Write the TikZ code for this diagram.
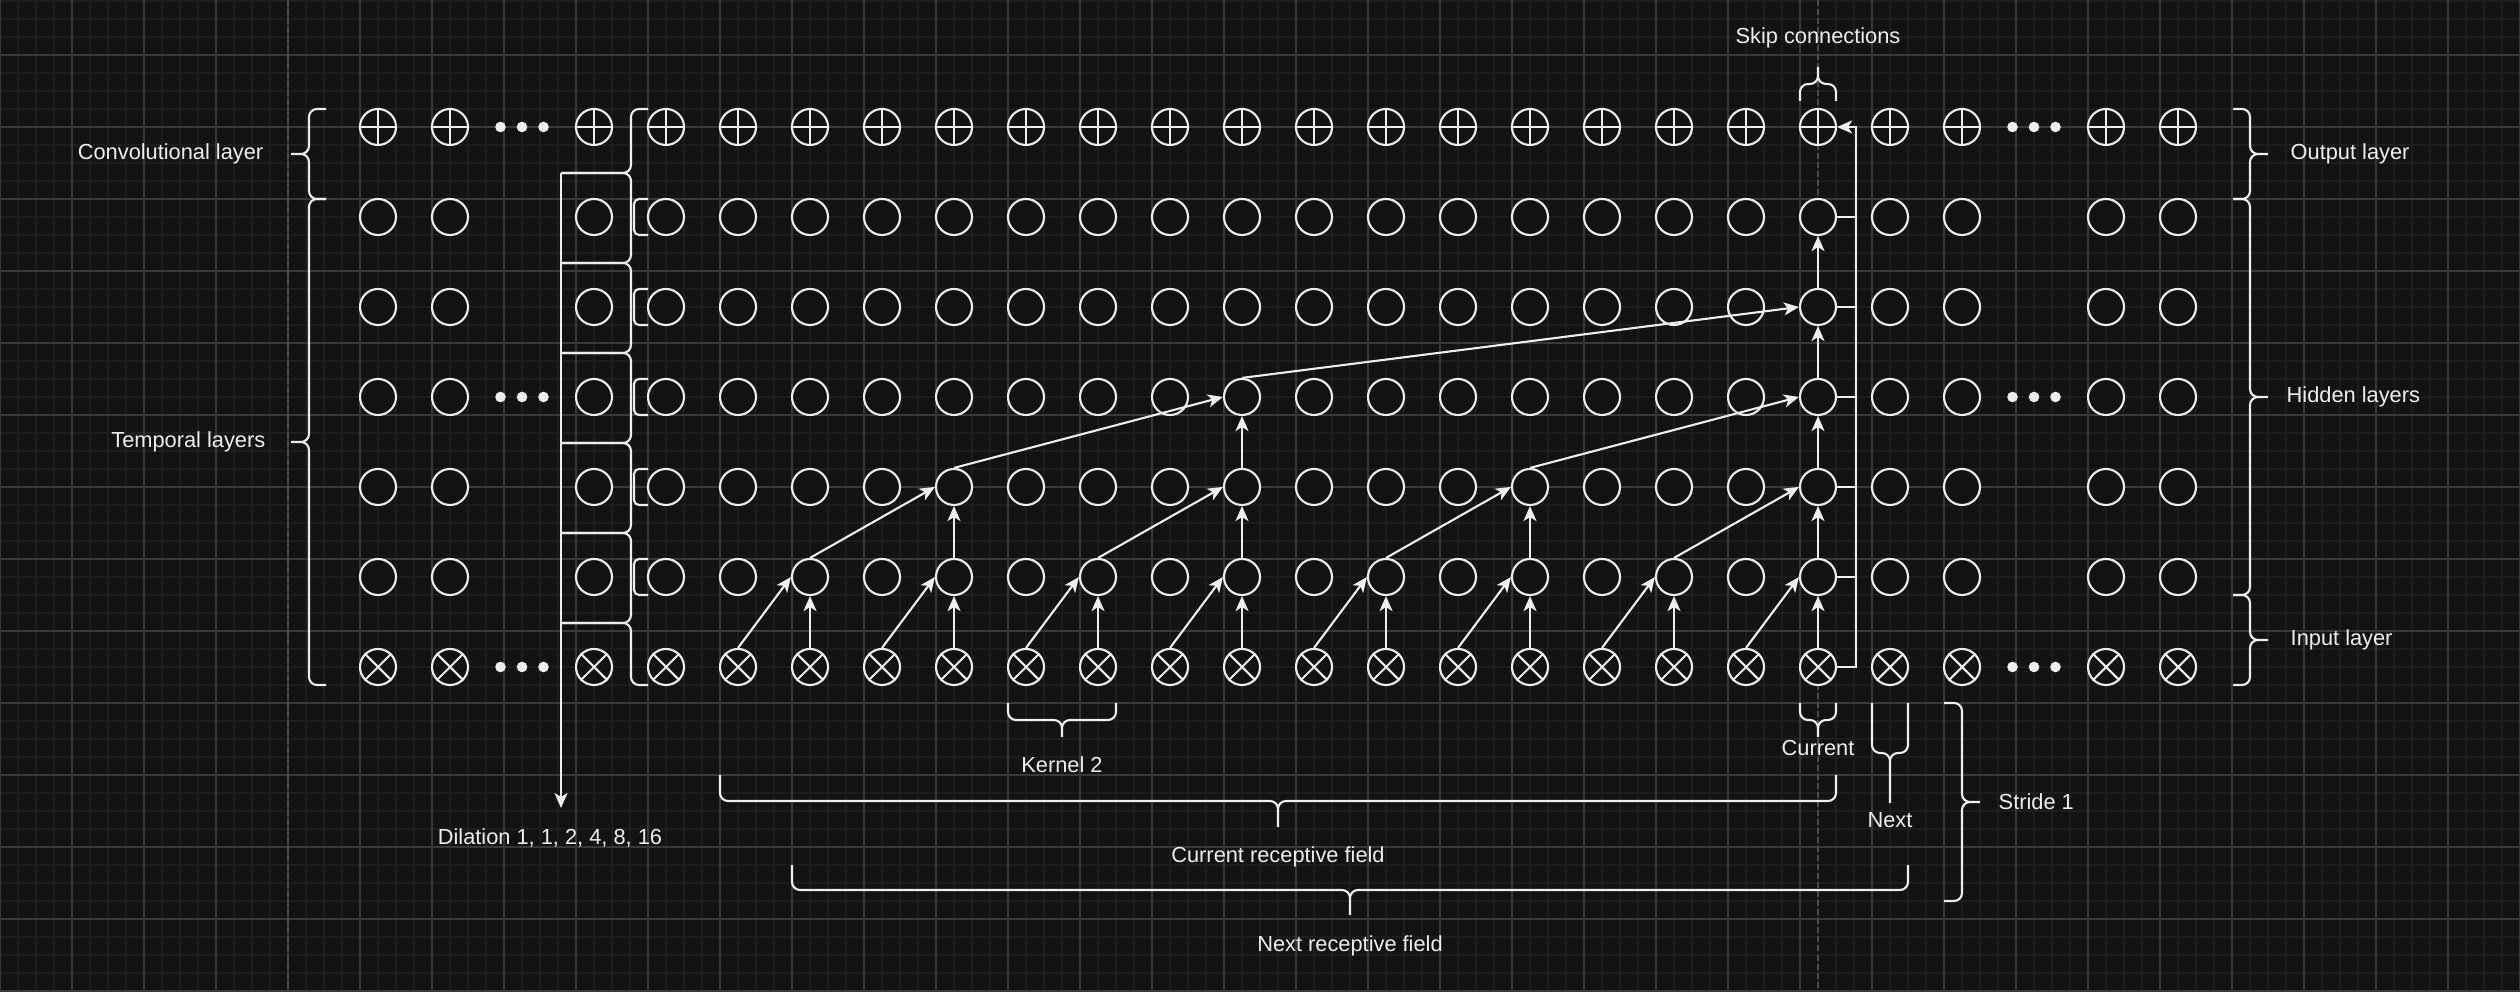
\documentclass[tikz,border=0pt]{standalone}
\usepackage{fontspec}
\setmainfont{Liberation Sans}
\usetikzlibrary{positioning,arrows.meta}
\definecolor{bgc}{HTML}{121212}
\definecolor{minorc}{HTML}{1D1D1D}
\definecolor{majorc}{HTML}{393939}
\definecolor{dashc}{HTML}{4C4C4C}
\definecolor{inkc}{HTML}{EEEEEE}

\begin{document}
\begin{tikzpicture}[x=0.01cm, y=-0.01cm,
  every node/.style={font=\fontsize{6.2}{7.4}\selectfont, text=inkc, inner sep=0pt},
  unit/.style={circle, draw=inkc, fill=bgc, line width=0.6pt, minimum size=0.36cm, inner sep=0pt},
  wire/.style={draw=inkc, line width=0.6pt},
  conn/.style={wire, -{Stealth[length=0.15cm, width=0.13cm, inset=0.04cm]}},
  brc/.style={wire, rounded corners=0.08cm},
  minorgrid/.style={draw=minorc, line width=0.3pt},
  majorgrid/.style={draw=majorc, line width=0.4pt},
  guide/.style={draw=dashc, line width=0.5pt, dash pattern=on 0.06cm off 0.03cm}]
  \useasboundingbox (0,0) rectangle (2520,992);
  \fill[bgc] (0,0) rectangle (2520,992);

  % grid
  \foreach \gx in {0,18,...,2520} \draw[minorgrid] (\gx,0) -- (\gx,992);
  \foreach \gy in {1,19,...,991} \draw[minorgrid] (0,\gy) -- (2520,\gy);
  \foreach \gx in {0,72,...,2520} \draw[majorgrid] (\gx,0) -- (\gx,992);
  \foreach \gy in {55,127,...,991} \draw[majorgrid] (0,\gy) -- (2520,\gy);
  \draw[guide] (288,0) -- (288,992);
  \draw[guide] (1818,0) -- (1818,992);

  % units
  \foreach \c in {0,1,3,4,5,6,7,8,9,10,11,12,13,14,15,16,17,18,19,20,21,22,24,25} {
    \foreach \r in {0,...,6}
      \node[unit] (n-\r-\c) at ({378+72*\c},{127+90*\r}) {};
    \draw[wire] (n-0-\c.north) -- (n-0-\c.south) (n-0-\c.west) -- (n-0-\c.east);
    \draw[wire] (n-6-\c.north west) -- (n-6-\c.south east) (n-6-\c.north east) -- (n-6-\c.south west);
  }
  \foreach \c in {2,23}
    \foreach \r in {0,3,6}
      \foreach \d in {-21.5,0,21.5}
        \fill[inkc] ({378+72*\c+\d},{127+90*\r}) circle (0.053cm);

  % dilation
  \coordinate (dil) at (561,173);
  \coordinate (dilend) at (561,808);
  \draw[conn] (dil) -- (dilend);
  \foreach \yt/\yb in {173/263,263/353,353/443,443/533,533/623}
    \draw[brc] (561,\yt) -- (631,\yt) -- (631,\yb) -- (561,\yb);
  \draw[brc] (561,173) -- (631,173) -- (631,109) -- (648,109);
  \draw[brc] (561,623) -- (631,623) -- (631,685) -- (648,685);
  \foreach \r in {1,...,5}
    \draw[wire, rounded corners=0.05cm] (648,{109+90*\r}) -- (634,{109+90*\r}) -- (634,{145+90*\r}) -- (648,{145+90*\r});
  \node (ldil) at (550,838) {Dilation 1, 1, 2, 4, 8, 16};

  % braces
  \draw[brc] (326,109) -| (309,154) -- (291,154) (326,199) -| (309,154) -- (291,154);
  \draw[brc] (326,199) -| (309,442) -- (291,442) (326,685) -| (309,442) -- (291,442);
  \draw[brc] (2233,109) -| (2250,154) -- (2268,154) (2233,199) -| (2250,154) -- (2268,154);
  \draw[brc] (2233,199) -| (2250,397) -- (2268,397) (2233,595) -| (2250,397) -- (2268,397);
  \draw[brc] (2233,595) -| (2250,640) -- (2268,640) (2233,685) -| (2250,640) -- (2268,640);
  \draw[brc] (1944,703) -| (1962,802) -- (1980,802) (1944,901) -| (1962,802) -- (1980,802);
  \draw[brc] (1800,101) |- (1818,84) -- (1818,67) (1836,101) |- (1818,84) -- (1818,67);
  \draw[brc] (1008,703) |- (1062,720) -- (1062,737) (1116,703) |- (1062,720) -- (1062,737);
  \draw[brc] (1800,703) |- (1818,720) -- (1818,737) (1836,703) |- (1818,720) -- (1818,737);
  \draw[brc] (1872,703) |- (1890,753) -- (1890,803) (1908,703) |- (1890,753) -- (1890,803);
  \draw[brc] (720,775) |- (1278,801) -- (1278,827) (1836,775) |- (1278,801) -- (1278,827);
  \draw[brc] (792,865) |- (1350,890) -- (1350,915) (1908,865) |- (1350,890) -- (1350,915);

  % labels
  \node[anchor=east] (lconv) at (264,154) {Convolutional layer};
  \node[anchor=east] (ltemp) at (266,442) {Temporal layers};
  \node[anchor=west] (lout) at (2290,154) {Output layer};
  \node[anchor=west] (lhid) at (2286,397) {Hidden layers};
  \node[anchor=west] (lin) at (2290,640) {Input layer};
  \node[anchor=west] (lstride) at (1998,802) {Stride 1};
  \node (lskip) at (1818,38) {Skip connections};
  \node (lkernel) at (1062,765) {Kernel 2};
  \node (lcur) at (1818,748) {Current};
  \node (lnext) at (1890,820) {Next};
  \node (lcurrf) at (1278,857) {Current receptive field};
  \node (lnextrf) at (1350,946) {Next receptive field};

  % dilated connections
  \foreach \c [evaluate=\c as \p using int(\c-1)] in {6,8,...,20} {
    \draw[conn] (n-6-\p.north) -- (n-5-\c.west);
    \draw[conn] (n-6-\c.north) -- (n-5-\c.south);
  }
  \foreach \c [evaluate=\c as \p using int(\c-2)] in {8,12,16,20} {
    \draw[conn] (n-5-\p.north) -- (n-4-\c.west);
    \draw[conn] (n-5-\c.north) -- (n-4-\c.south);
  }
  \foreach \c [evaluate=\c as \p using int(\c-4)] in {12,20} {
    \draw[conn] (n-4-\p.north) -- (n-3-\c.west);
    \draw[conn] (n-4-\c.north) -- (n-3-\c.south);
  }
  \draw[conn] (n-3-12.north) -- (n-2-20.west);
  \draw[conn] (n-3-20.north) -- (n-2-20.south);
  \draw[conn] (n-2-20.north) -- (n-1-20.south);

  % skip connections
  \coordinate (skipbot) at (1856,667);
  \coordinate (skiptop) at (1856,127);
  \draw[conn, line width=0.8pt] (n-6-20.east) -- (skipbot) -- (skiptop) -- (n-0-20.east);
  \foreach \r in {1,...,5}
    \draw[wire] (n-\r-20.east) -- (n-\r-20.east -| skipbot);
\end{tikzpicture}
\end{document}
